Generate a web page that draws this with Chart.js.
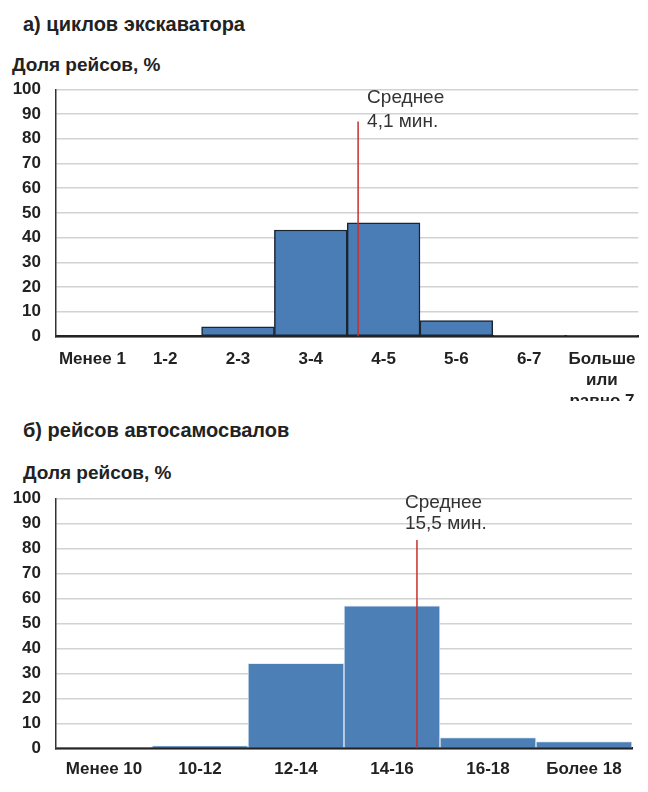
<!DOCTYPE html>
<html lang="ru">
<head>
<meta charset="utf-8">
<script src="https://cdn.jsdelivr.net/npm/chart.js@4.4.0/dist/chart.umd.min.js"></script>
<style>
  body { margin: 0; background: #fff; width: 648px; height: 792px; position: relative; overflow: hidden; }
  .title, .axis-title { position: absolute; font-family: "Liberation Sans", Arial, sans-serif; font-weight: bold; color: #222; white-space: nowrap; }
  .title { font-size: 20px; line-height: 22px; }
  .axis-title { font-size: 19px; line-height: 22px; }
  canvas { position: absolute; left: 0; }
</style>
</head>
<body>
<div class="title" style="left:23px; top:13px;">а) циклов экскаватора</div>
<div class="axis-title" style="left:12px; top:54px;">Доля рейсов, %</div>
<canvas id="chart-excavator" width="648" height="321" style="top:80px;"></canvas>

<div class="title" style="left:23px; top:419px;">б) рейсов автосамосвалов</div>
<div class="axis-title" style="left:23px; top:462px;">Доля рейсов, %</div>
<canvas id="chart-trucks" width="648" height="304" style="top:488px;"></canvas>

<script>
// Data
const excavatorBins = ['Менее 1', '1-2', '2-3', '3-4', '4-5', '5-6', '6-7', ['Больше', 'или', 'равно 7']];
const excavatorShare = [0, 0, 3.9, 43.1, 46, 6.4, 0.4, 0.4];
const excavatorMeanPos = 4.15;   // position of the mean line, in bins
const excavatorMeanTop = 87;
const excavatorMeanText = ['Среднее', '4,1 мин.'];

const truckBins = ['Менее 10', '10-12', '12-14', '14-16', '16-18', 'Более 18'];
const truckShare = [0.2, 1, 34, 57, 4.3, 2.7];
const truckMeanPos = 3.76;
const truckMeanTop = 83.3;
const truckMeanText = ['Среднее', '15,5 мин.'];

const yMin = 0;
const yMax = 100;
const yStep = 10;

const FONT = '"Liberation Sans", Arial, sans-serif';

// Draws the "Среднее ..." caption next to the mean line
const meanLabelPlugin = {
    id: 'meanLabel',
    afterDatasetsDraw(chart, args, opts) {
        const pt = chart.getDatasetMeta(0).data[1];
        if (!pt) return;
        const ctx = chart.ctx;
        ctx.save();
        ctx.font = '19px ' + FONT;
        ctx.textBaseline = 'middle';
        ctx.fillStyle = '#333';
        opts.lines.forEach((txt, i) => {
            ctx.fillText(txt, pt.x + opts.dx, chart.scales.y.getPixelForValue(opts.at[i]));
        });
        ctx.restore();
    }
};

function makeHistogram(canvasId, cfg) {
    const ctx = document.getElementById(canvasId).getContext('2d');
    return new Chart(ctx, {
        type: 'bar',
        data: {
            labels: cfg.bins,
            datasets: [{
                type: 'line',
                xAxisID: 'xm',
                data: [{ x: cfg.meanPos, y: 0 }, { x: cfg.meanPos, y: cfg.meanTop }],
                borderColor: '#c8302a',
                borderWidth: 1.5,
                pointRadius: 0,
                order: 0
            }, {
                type: 'bar',
                xAxisID: 'x',
                data: cfg.values,
                backgroundColor: cfg.barColor,
                borderColor: cfg.barBorder,
                borderWidth: cfg.barBorderWidth,
                borderSkipped: cfg.borderSkipped,
                grouped: false,
                barPercentage: 1,
                categoryPercentage: 1,
                order: 1
            }]
        },
        options: {
            responsive: false,
            animation: false,
            layout: { padding: { top: cfg.padTop, right: cfg.padRight, left: 0, bottom: 0 } },
            plugins: {
                legend: { display: false },
                tooltip: { enabled: false },
                meanLabel: { lines: cfg.meanText, at: cfg.textAt, dx: cfg.textDx }
            },
            scales: {
                x: {
                    type: 'category',
                    z: 1,
                    grid: { display: false, drawTicks: false },
                    border: { display: true, color: '#222', width: 2.5 },
                    ticks: {
                        color: '#222',
                        padding: cfg.xPad,
                        maxRotation: 0,
                        autoSkip: false,
                        font: { family: FONT, size: 17, weight: 'bold', lineHeight: 1.25 }
                    },
                    afterFit: (scale) => { scale.height = cfg.xHeight; }
                },
                xm: {
                    type: 'linear',
                    display: false,
                    min: 0,
                    max: cfg.bins.length,
                    offset: false
                },
                y: {
                    min: yMin,
                    max: yMax,
                    grid: { color: '#d2d2d2', lineWidth: 1.5, drawTicks: false },
                    border: { display: true, color: '#333', width: 1.5 },
                    ticks: {
                        stepSize: yStep,
                        color: '#222',
                        padding: 15,
                        font: { family: FONT, size: 17, weight: 'bold' }
                    },
                    afterFit: (scale) => {
                        scale.width = 56;
                        scale.paddingTop = 0;
                        scale.paddingBottom = 0;
                    }
                }
            }
        },
        plugins: [meanLabelPlugin]
    });
}

makeHistogram('chart-excavator', {
    bins: excavatorBins,
    values: excavatorShare,
    meanPos: excavatorMeanPos,
    meanTop: excavatorMeanTop,
    meanText: excavatorMeanText,
    textAt: [96.5, 86.9],
    textDx: 9,
    barColor: '#4a7db5',
    barBorder: '#1b2532',
    barBorderWidth: 1.5,
    borderSkipped: false,
    padTop: 9.3,
    padRight: 8,
    xPad: 12,
    xHeight: 64.5
});

makeHistogram('chart-trucks', {
    bins: truckBins,
    values: truckShare,
    meanPos: truckMeanPos,
    meanTop: truckMeanTop,
    meanText: truckMeanText,
    textAt: [98.2, 90],
    textDx: -12,
    barColor: '#4b7fb5',
    barBorder: '#e4edf7',
    barBorderWidth: 1,
    borderSkipped: 'start',
    padTop: 10.3,
    padRight: 16,
    xPad: 10,
    xHeight: 43.7
});
</script>
</body>
</html>
